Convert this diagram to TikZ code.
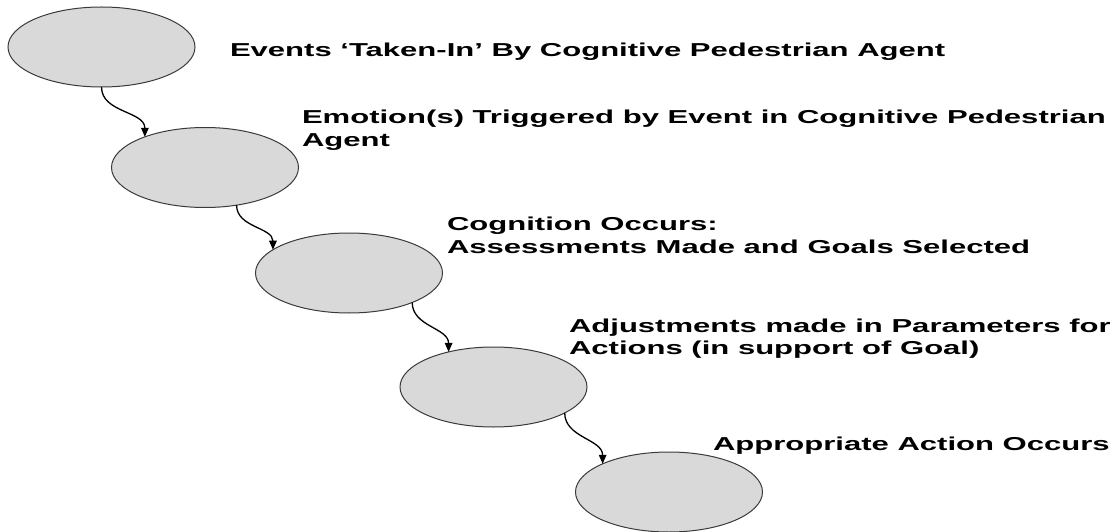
\documentclass[tikz,border=0pt]{standalone}
\usepackage{fontspec}
\usepackage{graphicx}
\usetikzlibrary{shapes.geometric,arrows.meta}
\newfontfamily\labfont{Liberation Sans}
\newcommand\lbl[1]{\scalebox{1.66}[1]{\labfont\bfseries\fontsize{18.7}{23}\selectfont #1}}
\definecolor{ellfill}{HTML}{D9D9D9}
\definecolor{elldraw}{HTML}{3A3A3A}
\tikzset{
  stage/.style={ellipse, draw=elldraw, fill=ellfill, line width=1pt,
    minimum width=187pt, minimum height=80pt, inner sep=0pt, outer sep=0pt},
  lab/.style={anchor=base west, inner sep=0pt, outer sep=0pt},
  flow/.style={line width=1.3pt, -{Triangle[length=9pt,width=7.5pt]}, out=-90, in=90}
}
\begin{document}
\begin{tikzpicture}[x=1pt,y=1pt]
\fill[white] (0,0) rectangle (1110,531);
\useasboundingbox (0,0) rectangle (1110,531);
\node[stage] (e1) at (101.5,484) {};
\node[stage] (e2) at (205,363.5) {};
\node[stage] (e3) at (349,258) {};
\node[stage] (e4) at (493.5,144) {};
\node[stage] (e5) at (669,39) {};

\draw[flow] (e1.south) to (e2.153);
\draw[flow] (e2.-50) to (e3.163);
\draw[flow] (e3.-25) to (e4.142);
\draw[flow] (e4.-20) to (e5.157);

\node[lab] (t1) at (230,474) {\lbl{Events ‘Taken-In’ By Cognitive Pedestrian Agent}};
\node[lab] (t2a) at (302,407) {\lbl{Emotion(s) Triggered by Event in Cognitive Pedestrian}};
\node[lab] (t2b) at (302,384) {\lbl{Agent}};
\node[lab] (t3a) at (447,301) {\lbl{Cognition Occurs:}};
\node[lab] (t3b) at (447,278) {\lbl{Assessments Made and Goals Selected}};
\node[lab] (t4a) at (569,199) {\lbl{Adjustments made in Parameters for}};
\node[lab] (t4b) at (569,177) {\lbl{Actions (in support of Goal)}};
\node[lab] (t5) at (713,81) {\lbl{Appropriate Action Occurs}};
\end{tikzpicture}
\end{document}
